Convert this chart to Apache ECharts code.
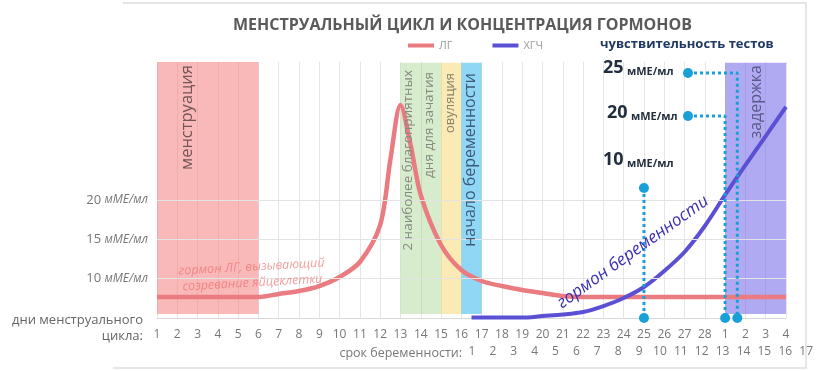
<!DOCTYPE html>
<html><head><meta charset="utf-8">
<script src="https://cdn.jsdelivr.net/npm/echarts@6/dist/echarts.min.js"></script>
<style>html,body{margin:0;padding:0;background:#fff}#c{width:816px;height:371px}</style>
</head><body><div id="c"></div>
<script>
// ---- data ----
const titleText = 'МЕНСТРУАЛЬНЫЙ ЦИКЛ И КОНЦЕНТРАЦИЯ ГОРМОНОВ';
const dayLabels = ['1','2','3','4','5','6','7','8','9','10','11','12','13','14','15','16','17','18','19','20','21','22','23','24','25','26','27','28','1','2','3','4'];
const weekLabels = ['1','2','3','4','5','6','7','8','9','10','11','12','13','14','15','16','17'];
const yTickValues = [10, 15, 20];
const yUnit = 'мМЕ/мл';
// LH (ЛГ) curve: x = day index (0 = day 1), y = concentration
const lhX = [0, 5, 6, 7, 8, 9, 10, 11, 11.5, 12, 12.5, 13, 14, 15, 16, 17, 18, 19, 20, 21, 31];
const lhY = [7.67, 7.67, 8.05, 8.43, 9.06, 10.2, 12.11, 16.81, 25.06, 32.04, 26.96, 20.6, 14.27, 11.09, 9.7, 9.06, 8.56, 8.17, 7.79, 7.67, 7.67];
// HCG (ХГЧ) curve
const hcgX = [15.5, 16, 18, 19, 20, 21, 22, 23, 24, 25, 26, 27, 28, 29, 30, 31];
const hcgY = [5.05, 5.05, 5.05, 5.25, 5.44, 5.76, 6.52, 7.54, 8.94, 10.97, 13.38, 16.68, 20.62, 24.42, 28.1, 31.79];
// phase bands
const bandNames = ['менструация', '2 наиболее благоприятных', 'овуляция', 'начало беременности', 'задержка'];
const bandFrom = [0, 12, 14, 15, 28];
const bandTo = [5, 14, 15, 16, 31];
const bandTop = [38.13, 37.4, 37.4, 37.4, 37.4];
const bandBottom = [5.5, 5.5, 5.5, 5.5, 5.5];
// test sensitivity markers
const testLevels = ['10', '20', '25'];
const testLabelX = [24, 26.17, 26.17];
const testLabelY = [21.5, 30.64, 36.1];
const testDayX = [24, 28, 28.6];

const chart = echarts.init(document.getElementById('c'), null, {renderer: 'canvas'});
const FF = "'Open Sans', 'Noto Sans', sans-serif";

const bandColors = ['rgba(246,115,115,0.5)', 'rgba(150,205,120,0.38)', 'rgba(250,213,105,0.5)', 'rgba(70,188,240,0.6)', 'rgba(110,100,230,0.55)'];
const areas = bandFrom.map((f, i) => [
  {xAxis: f, yAxis: bandBottom[i], itemStyle: {color: bandColors[i]}},
  {xAxis: bandTo[i], yAxis: bandTop[i]}
]);

const testSeries = testLevels.map((lv, i) => {
  const pts = [];
  pts.push({value: [testLabelX[i], testLabelY[i]]});
  if (testLabelX[i] !== testDayX[i]) pts.push({value: [testDayX[i], testLabelY[i]], symbol: 'none'});
  pts.push({value: [testDayX[i], 5]});
  return {
    type: 'line', name: 'test' + lv, data: pts, z: 5, clip: false, silent: true,
    symbol: 'circle', symbolSize: 10, showSymbol: true,
    itemStyle: {color: '#1aa0d8'},
    lineStyle: {type: 'dotted', width: 3, color: '#1aa0d8'}
  };
});

const option = {
  animation: false,
  title: {
    text: titleText, left: 228, top: 12,
    textStyle: {fontFamily: FF, fontSize: 16, fontWeight: 'bold', color: '#5a5a5a'}
  },
  legend: {
    data: ['ЛГ', 'ХГЧ'], left: 403, top: 35, icon: 'rect', itemWidth: 26, itemHeight: 4, itemGap: 40,
    textStyle: {fontFamily: FF, fontSize: 11, color: '#9a9a9a'}
  },
  grid: [
    {left: 157, right: 30, top: 62, bottom: 53},
    {left: 472, right: 9, top: 352, height: 1}
  ],
  xAxis: [
    {
      type: 'value', gridIndex: 0, min: 0, max: 31, interval: 1,
      axisLine: {show: true, lineStyle: {color: '#d8d8d8', width: 1}},
      axisTick: {show: false},
      splitLine: {show: true, lineStyle: {color: '#e6e6e6', width: 1}},
      axisLabel: {
        margin: 11, fontFamily: FF, fontSize: 12, color: '#777',
        showMinLabel: true, showMaxLabel: true,
        formatter: v => dayLabels[Math.round(v)] ?? ''
      }
    },
    {
      type: 'value', gridIndex: 1, min: 1, max: 17, interval: 1,
      axisLine: {show: false}, axisTick: {show: false}, splitLine: {show: false},
      name: 'срок беременности:', nameLocation: 'start', nameGap: 10,
      nameTextStyle: {fontFamily: FF, fontSize: 12.5, color: '#777', verticalAlign: 'middle'},
      axisLabel: {
        margin: -7, fontFamily: FF, fontSize: 12, color: '#777',
        showMinLabel: true, showMaxLabel: true,
        formatter: v => weekLabels[Math.round(v) - 1] ?? ''
      }
    }
  ],
  yAxis: [
    {
      type: 'value', gridIndex: 0, min: 5, max: 37.5, interval: 5,
      axisLine: {show: false}, axisTick: {show: false}, splitLine: {show: false},
      axisLabel: {
        margin: 9, showMaxLabel: false,
        formatter: v => yTickValues.includes(v) ? '{n|' + v + '} {u|' + yUnit + '}' : '',
        rich: {
          n: {fontFamily: FF, fontSize: 13, fontStyle: 'normal', color: '#777'},
          u: {fontFamily: FF, fontSize: 12, fontStyle: 'italic', color: '#777'}
        }
      }
    },
    {type: 'value', gridIndex: 1, show: false}
  ],
  series: [
    {
      type: 'line', name: 'bands', data: [], z: 1, silent: true,
      markArea: {silent: true, data: areas, label: {show: false}},
      markLine: {
        silent: true, symbol: 'none', label: {show: false},
        lineStyle: {color: '#e3e3e3', width: 1, type: 'solid'},
        data: yTickValues.map(v => ({yAxis: v}))
      }
    },
    {
      type: 'line', name: 'ЛГ', data: lhX.map((x, i) => [x, lhY[i]]),
      smooth: 0.3, showSymbol: false, z: 3, clip: false,
      itemStyle: {color: '#ea7b80'}, lineStyle: {width: 4.5, color: '#ea7b80'}
    },
    {
      type: 'line', name: 'ХГЧ', data: hcgX.map((x, i) => [x, hcgY[i]]),
      smooth: 0.3, showSymbol: false, z: 4, clip: false,
      itemStyle: {color: '#5b50d3'}, lineStyle: {width: 4, color: '#5b50d3'}
    },
    ...testSeries
  ],
  graphic: [
    {type: 'polyline', silent: true, shape: {points: [[123, 3], [806, 3], [806, 368], [113, 368]]},
     style: {stroke: '#dedede', lineWidth: 1.5, fill: null}},
    {type: 'text', x: 143, y: 320, silent: true, style: {text: 'дни менструального', align: 'right', verticalAlign: 'middle', font: "13px 'Open Sans', sans-serif", fill: '#666'}},
    {type: 'text', x: 143, y: 336, silent: true, style: {text: 'цикла:', align: 'right', verticalAlign: 'middle', font: "13px 'Open Sans', sans-serif", fill: '#666'}},
    // band captions
    {type: 'text', x: 187, y: 65, rotation: Math.PI / 2, silent: true, z: 10, style: {text: bandNames[0], align: 'right', verticalAlign: 'middle', font: "16.5px 'Open Sans', sans-serif", fill: '#735555'}},
    {type: 'text', x: 408, y: 70, rotation: Math.PI / 2, silent: true, z: 10, style: {text: bandNames[1], align: 'right', verticalAlign: 'middle', font: "13.5px 'Open Sans', sans-serif", fill: '#858a80'}},
    {type: 'text', x: 429, y: 72, rotation: Math.PI / 2, silent: true, z: 10, style: {text: 'дня для зачатия', align: 'right', verticalAlign: 'middle', font: "13.5px 'Open Sans', sans-serif", fill: '#858a80'}},
    {type: 'text', x: 450, y: 73, rotation: Math.PI / 2, silent: true, z: 10, style: {text: bandNames[2], align: 'right', verticalAlign: 'middle', font: "13px 'Open Sans', sans-serif", fill: '#8a8470'}},
    {type: 'text', x: 470, y: 73, rotation: Math.PI / 2, silent: true, z: 10, style: {text: bandNames[3], align: 'right', verticalAlign: 'middle', font: "16px 'Open Sans', sans-serif", fill: '#3d5a78'}},
    {type: 'text', x: 756, y: 65, rotation: Math.PI / 2, silent: true, z: 10, style: {text: bandNames[4], align: 'right', verticalAlign: 'middle', font: "16px 'Open Sans', sans-serif", fill: '#5a5888'}},
    // annotations
    {type: 'text', x: 252, y: 275, rotation: 0.055, silent: true, z: 10, style: {text: 'гормон ЛГ, вызывающий\nсозревание яйцеклетки', align: 'center', verticalAlign: 'middle', lineHeight: 16, font: "italic 12.5px 'Open Sans', sans-serif", fill: 'rgba(236,100,100,0.62)'}},
    {type: 'text', x: 633, y: 252, rotation: 0.62, silent: true, z: 10, style: {text: 'гормон беременности', align: 'center', verticalAlign: 'middle', font: "italic 17px 'Open Sans', sans-serif", fill: '#3a30b0'}},
    {type: 'text', x: 600, y: 44, silent: true, z: 10, style: {text: 'чувствительность тестов', align: 'left', verticalAlign: 'middle', font: "bold 13px 'Open Sans', sans-serif", fill: '#1f3864'}},
    ...[[603, 68, 2], [607, 113, 1], [603, 160, 0]].map(([x, y, i]) => ({
      type: 'text', x: x, y: y, silent: true, z: 10,
      style: {
        text: '{a|' + testLevels[i] + '} {b|' + yUnit + '}', align: 'left', verticalAlign: 'middle',
        rich: {
          a: {fontFamily: FF, fontSize: 18, fontWeight: 'bold', fill: '#1f2d3d', verticalAlign: 'bottom'},
          b: {fontFamily: FF, fontSize: 11, fontWeight: 'bold', fill: '#1f2d3d', verticalAlign: 'bottom'}
        }
      }
    }))
  ]
};
chart.setOption(option);
</script>
</body></html>
